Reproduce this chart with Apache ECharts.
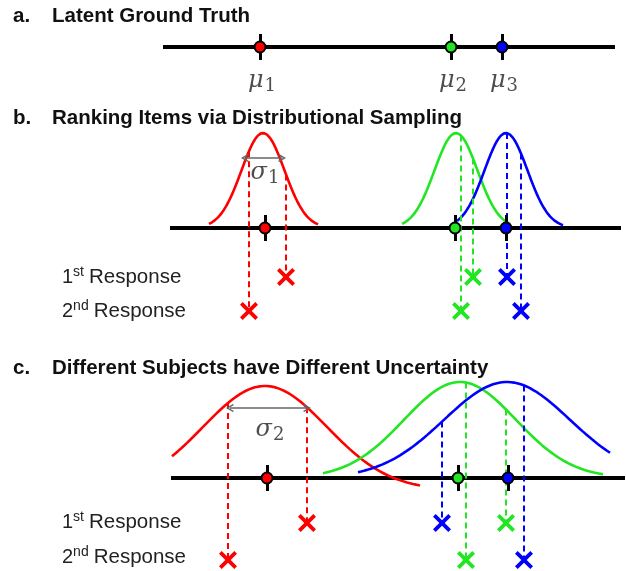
<!DOCTYPE html>
<html>
<head>
<meta charset="utf-8">
<script src="https://cdn.jsdelivr.net/npm/echarts@6/dist/echarts.min.js"></script>
<style>
html, body { margin: 0; padding: 0; background: #fff; }
#chart { width: 626px; height: 571px; }
</style>
</head>
<body>
<div id="chart"></div>
<script>
// drawing units: x to the right, y downwards
var colors = ['#ff0000', '#22e622', '#0000ff'];
var muNames = ['1', '2', '3'];

// axis line of each panel (a, b, c)
var baseY = [47, 228, 478];
var lineSpan = [[163, 615], [170, 621], [171, 625]];

// ground truth positions drawn on each axis
var muA = [260, 451, 502];
var muB = [265, 455, 506];
var muC = [267, 458, 508];

// b. narrow distributions
var centerB = [263, 456, 506];
var sdB = [21.5, 21.5, 21.5];
var heightB = [95, 95, 95];
var spanB = [[209, 318], [402, 510], [457, 563]];
var firstB = [286, 473, 507];
var secondB = [249, 461, 521];
var rowB = [277, 311];
var sigmaB = [245, 282];

// c. wide distributions
var centerC = [265, 460, 507];
var sdC = [62, 56, 63];
var heightC = [104, 96, 96];
var floorC = [490, 478, 478];
var spanC = [[172, 420], [323, 603], [358, 610]];
var firstC = [307, 506, 442];
var secondC = [228, 466, 524];
var rowC = [523, 560];
var sigmaC = [230, 307];

function density(x, c, sd, h, floor) {
    return floor - h * Math.exp(-(x - c) * (x - c) / (2 * sd * sd));
}

var chart = echarts.init(document.getElementById('chart'));

var series = [];
var FONT = 'Liberation Sans';
var MATH = 'DejaVu Serif';
var crossPath = 'path://M3,0 L10,7 L17,0 L20,3 L13,10 L20,17 L17,20 L10,13 L3,20 L0,17 L7,10 L0,3 Z';

// axis lines
series.push({
    type: 'lines',
    coordinateSystem: 'cartesian2d',
    z: 1,
    lineStyle: { color: '#000', width: 4, opacity: 1 },
    data: baseY.map(function (y, k) {
        return { coords: [[lineSpan[k][0], y], [lineSpan[k][1], y]] };
    })
});

// distribution curves
for (var i = 0; i < 3; i++) {
    var ptsB = [], ptsC = [];
    for (var x = spanB[i][0]; x <= spanB[i][1]; x++) {
        ptsB.push([x, density(x, centerB[i], sdB[i], heightB[i], baseY[1])]);
    }
    for (var x2 = spanC[i][0]; x2 <= spanC[i][1]; x2++) {
        ptsC.push([x2, density(x2, centerC[i], sdC[i], heightC[i], floorC[i])]);
    }
    [ptsB, ptsC].forEach(function (pts) {
        series.push({
            type: 'line',
            z: 2,
            showSymbol: false,
            data: pts,
            lineStyle: { color: colors[i], width: 2.6 }
        });
    });
}

// dashed drops from the curve to each response
var drops = [];
var crosses = [];
for (var j = 0; j < 3; j++) {
    [[firstB[j], rowB[0]], [secondB[j], rowB[1]]].forEach(function (r) {
        drops.push({
            coords: [[r[0], density(r[0], centerB[j], sdB[j], heightB[j], baseY[1])], r],
            lineStyle: { color: colors[j] }
        });
        crosses.push({ value: r, itemStyle: { color: colors[j] } });
    });
    [[firstC[j], rowC[0]], [secondC[j], rowC[1]]].forEach(function (r) {
        drops.push({
            coords: [[r[0], density(r[0], centerC[j], sdC[j], heightC[j], floorC[j])], r],
            lineStyle: { color: colors[j] }
        });
        crosses.push({ value: r, itemStyle: { color: colors[j] } });
    });
}
series.push({
    type: 'lines',
    coordinateSystem: 'cartesian2d',
    z: 3,
    lineStyle: { width: 2, type: [6, 4], opacity: 1 },
    data: drops
});
series.push({
    type: 'scatter',
    z: 5,
    symbol: crossPath,
    symbolSize: 18,
    itemStyle: { opacity: 1 },
    data: crosses
});

// ticks and dots at the ground truth
var ticks = [], dots = [];
[muA, muB, muC].forEach(function (mus, k) {
    mus.forEach(function (m, i) {
        ticks.push({ coords: [[m, baseY[k] - 13], [m, baseY[k] + 13]] });
        dots.push({ value: [m, baseY[k]], itemStyle: { color: colors[i] } });
    });
});
series.push({
    type: 'lines',
    coordinateSystem: 'cartesian2d',
    z: 4,
    lineStyle: { color: '#000', width: 3, opacity: 1 },
    data: ticks
});
series.push({
    type: 'scatter',
    z: 5,
    symbol: 'circle',
    symbolSize: 11,
    itemStyle: { borderColor: '#000', borderWidth: 2, opacity: 1 },
    data: dots
});

// sigma arrows
var chevron = 'path://M5,0 L10,6 L8.6,7 L5,2.4 L1.4,7 L0,6 Z';
series.push({
    type: 'lines',
    coordinateSystem: 'cartesian2d',
    z: 4,
    symbol: [chevron, chevron],
    symbolSize: 8,
    lineStyle: { color: '#666', width: 1.5, opacity: 1 },
    data: [
        { coords: [[sigmaB[0], 158], [sigmaB[1], 158]] },
        { coords: [[sigmaC[0], 408], [sigmaC[1], 408]] }
    ]
});

// math labels
var mathRich = {
    m: { fontFamily: MATH, fontStyle: 'italic', fontSize: 24, color: '#222' },
    s: { fontFamily: MATH, fontSize: 18, color: '#222', padding: [11, 0, 0, 1] }
};
series.push({
    type: 'scatter',
    z: 6,
    symbolSize: 0,
    silent: true,
    label: {
        show: true,
        position: 'inside',
        formatter: function (p) { return '{m|' + p.data.sym + '}{s|' + p.data.sub + '}'; },
        rich: mathRich
    },
    data: muA.map(function (m, i) {
        return { value: [m + 2, 81], sym: 'μ', sub: muNames[i] };
    }).concat([
        { value: [265, 173], sym: 'σ', sub: '1' },
        { value: [270, 430], sym: 'σ', sub: '2' }
    ])
});

var resRich = {
    a: { fontFamily: FONT, fontSize: 20, fill: '#222' },
    b: { fontFamily: FONT, fontSize: 14, fill: '#222', padding: [0, 0, 9, 0] },
    r: { fontFamily: FONT, fontSize: 20.5, fill: '#222', padding: [0, 0, 0, 5] }
};
function responseText(n, sup, y) {
    return {
        type: 'text', x: 62, y: y,
        style: {
            text: '{a|' + n + '}{b|' + sup + '}{r|Response}',
            rich: resRich,
            verticalAlign: 'middle'
        }
    };
}
function titleText(letter, text, y) {
    return [
        { type: 'text', x: 13, y: y, style: { text: letter, font: 'bold 20.5px ' + FONT, fill: '#111', verticalAlign: 'middle' } },
        { type: 'text', x: 52, y: y, style: { text: text, font: 'bold 20.5px ' + FONT, fill: '#111', verticalAlign: 'middle' } }
    ];
}

chart.setOption({
    animation: false,
    grid: { left: 0, right: 0, top: 0, bottom: 0 },
    xAxis: { type: 'value', min: 0, max: 626, show: false },
    yAxis: { type: 'value', min: 0, max: 571, inverse: true, show: false },
    graphic: [].concat(
        titleText('a.', 'Latent Ground Truth', 16),
        titleText('b.', 'Ranking Items via Distributional Sampling', 118),
        titleText('c.', 'Different Subjects have Different Uncertainty', 368),
        [
            responseText('1', 'st', rowB[0]),
            responseText('2', 'nd', rowB[1]),
            responseText('1', 'st', rowC[0] - 1),
            responseText('2', 'nd', rowC[1] - 3)
        ]
    ),
    series: series
});
</script>
</body>
</html>
